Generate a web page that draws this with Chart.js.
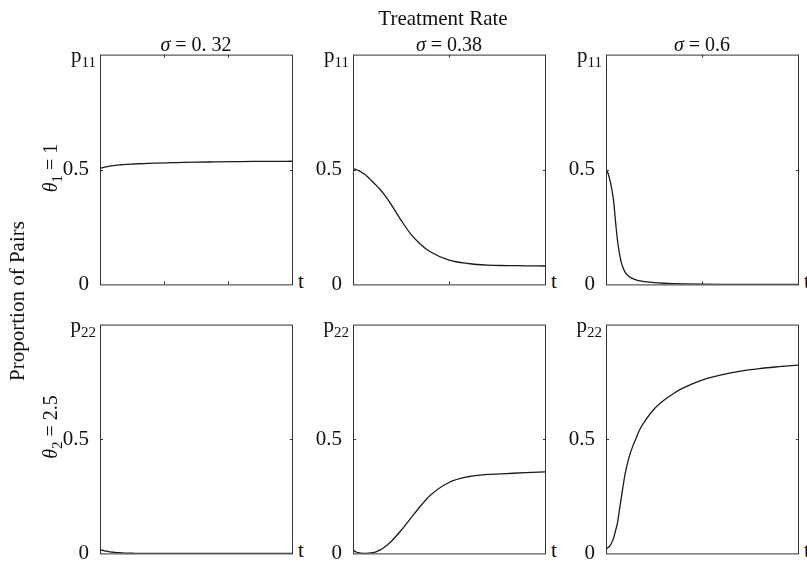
<!DOCTYPE html>
<html>
<head>
<meta charset="utf-8">
<script src="https://cdn.jsdelivr.net/npm/chart.js@4.4.1/dist/chart.umd.min.js"></script>
<style>
body{margin:0;background:#fff;}
#wrap{position:relative;width:807px;height:565px;overflow:hidden;font-family:"Liberation Serif","Times New Roman",serif;color:#111;}
canvas{position:absolute;}
.lbl{position:absolute;white-space:nowrap;font-size:21px;line-height:21px;}
.rot{transform:translate(-50%,-50%) rotate(-90deg);}
.ctr{transform:translate(-50%,-50%);}
sub{font-size:15px;vertical-align:-5px;line-height:0;}
</style>
</head>
<body>
<div id="wrap"></div>
<script>
// time axis (shared), denser at the start
var tVals = [0,1,2,3,4,5,6,7,8,9,10,12,14,16,18,20,25,30,35,40,50,60,70,80,90,100];

// p11, theta1 = 1
var p11_s032 = [0.505,0.507,0.509,0.511,0.513,0.515,0.516,0.517,0.518,0.519,0.52,0.521,0.522,0.523,0.524,0.525,0.527,0.528,0.529,0.53,0.532,0.533,0.534,0.535,0.535,0.536];
var p11_s038 = [0.503,0.502,0.499,0.495,0.49,0.485,0.48,0.473,0.465,0.457,0.449,0.432,0.414,0.394,0.371,0.346,0.28,0.22,0.176,0.143,0.106,0.091,0.084,0.082,0.081,0.08];
var p11_s060 = [0.5,0.485,0.455,0.415,0.36,0.27,0.19,0.135,0.095,0.07,0.052,0.034,0.025,0.019,0.015,0.012,0.008,0.005,0.003,0.002,0.001,0.0005,0.0003,0.0002,0.0001,0.0001];

// p22, theta2 = 2.5
var p22_s032 = [0.016,0.014,0.012,0.01,0.009,0.007,0.006,0.005,0.004,0.003,0.003,0.002,0.001,0.001,0.0005,0.0004,0.0002,0.0001,0,0,0,0,0,0,0,0];
var p22_s038 = [0.016,0.009,0.005,0.003,0.001,0.0005,0.0003,0.0005,0.001,0.002,0.003,0.007,0.014,0.025,0.038,0.053,0.1,0.153,0.205,0.252,0.31,0.335,0.345,0.349,0.353,0.356];
var p22_s060 = [0.02,0.025,0.033,0.048,0.068,0.1,0.135,0.19,0.245,0.3,0.35,0.42,0.47,0.51,0.548,0.575,0.63,0.668,0.698,0.722,0.757,0.78,0.797,0.808,0.816,0.823];

var sigmaLabels = ['0. 32', '0.38', '0.6'];
var rowNames = ['11', '22'];
var rowThetas = [['1', '1'], ['2', '2.5']];
var xTickPos = [[33.3, 66.7], [50], [50]];

var series = [[p11_s032, p11_s038, p11_s060], [p22_s032, p22_s038, p22_s060]];

var panelLeft = [100, 353, 606];
var panelTop = [53, 323];
var panelW = 192;
var panelH = [233, 232];
var axisW = 40, padT = 14, padB = 14, padR = 4;

var wrap = document.getElementById('wrap');

function addLabel(html, x, y, cls, extra){
	var d = document.createElement('div');
	d.className = 'lbl ' + (cls || '');
	d.innerHTML = html;
	d.style.left = x + 'px';
	d.style.top = y + 'px';
	if(extra){ for(var k in extra) d.style[k] = extra[k]; }
	wrap.appendChild(d);
	return d;
}

// matlab style box with small inward ticks
var boxPlugin = {
	id: 'matlabBox',
	afterDatasetsDraw: function(chart){
		var a = chart.chartArea, ctx = chart.ctx;
		var xs = chart.scales.x, ys = chart.scales.y;
		var ticks = chart.options.plugins.matlabBox.xTicks || [];
		ctx.save();
		ctx.strokeStyle = '#333';
		ctx.lineWidth = 1;
		ctx.strokeRect(a.left + 0.5, a.top + 0.5, a.right - a.left, a.bottom - a.top);
		ctx.beginPath();
		var yp = Math.round(ys.getPixelForValue(0.5)) + 0.5;
		ctx.moveTo(a.left, yp); ctx.lineTo(a.left + 3, yp);
		ctx.moveTo(a.right + 1, yp); ctx.lineTo(a.right - 2, yp);
		ticks.forEach(function(t){
			var xp = Math.round(xs.getPixelForValue(t)) + 0.5;
			ctx.moveTo(xp, a.bottom); ctx.lineTo(xp, a.bottom - 3);
			ctx.moveTo(xp, a.top); ctx.lineTo(xp, a.top + 3);
		});
		ctx.stroke();
		ctx.restore();
	}
};

for(var r = 0; r < 2; r++){
	for(var c = 0; c < 3; c++){
		var cv = document.createElement('canvas');
		var w = axisW + panelW + padR, h = panelH[r] + padT + padB;
		cv.width = w; cv.height = h;
		cv.style.left = (panelLeft[c] - axisW) + 'px';
		cv.style.top = (panelTop[r] - padT) + 'px';
		wrap.appendChild(cv);

		var vals = series[r][c];
		new Chart(cv.getContext('2d'), {
			type: 'line',
			data: {
				datasets: [{
					data: tVals.map(function(t, i){ return {x: t, y: vals[i]}; }),
					borderColor: '#1a1a1a',
					borderWidth: 1.3,
					pointRadius: 0,
					cubicInterpolationMode: 'monotone',
					fill: false
				}]
			},
			options: {
				responsive: false,
				animation: false,
				layout: { padding: { left: 0, right: padR, top: padT, bottom: padB } },
				plugins: {
					legend: { display: false },
					tooltip: { enabled: false },
					matlabBox: { xTicks: r === 0 ? xTickPos[c] : [] }
				},
				scales: {
					x: { type: 'linear', min: 0, max: 100, display: false },
					y: {
						min: 0, max: 1,
						grid: { display: false },
						border: { display: false },
						afterFit: function(s){ s.width = axisW; },
						ticks: {
							stepSize: 0.5,
							padding: 3,
							color: '#111',
							font: { family: 'Liberation Serif', size: 21 },
							callback: function(v){ return v === 1 ? '' : (v === 0 ? '0' : '0.5'); }
						}
					}
				}
			},
			plugins: [boxPlugin]
		});

		// p label at top of y axis
		addLabel('p<sub>' + rowNames[r] + '</sub>', panelLeft[c] - 4, panelTop[r] - 8, '', {transform: 'translateX(-100%)'});
		// t at right end of x axis
		addLabel('t', panelLeft[c] + panelW + 6, panelTop[r] + panelH[r] - 15);
	}
}

// titles
addLabel('Treatment Rate', 443, 18, 'ctr');
for(var c2 = 0; c2 < 3; c2++){
	addLabel('<i>&sigma;</i> = ' + sigmaLabels[c2], panelLeft[c2] + panelW / 2, 44, 'ctr', {fontSize: '20px'});
}
addLabel('<i>&theta;</i><sub>' + rowThetas[0][0] + '</sub> = ' + rowThetas[0][1], 50, 168, 'rot', {fontSize: '20px'});
addLabel('<i>&theta;</i><sub>' + rowThetas[1][0] + '</sub> = ' + rowThetas[1][1], 50, 427, 'rot', {fontSize: '20px'});
addLabel('Proportion of Pairs', 17, 301, 'rot');
</script>
</body>
</html>
